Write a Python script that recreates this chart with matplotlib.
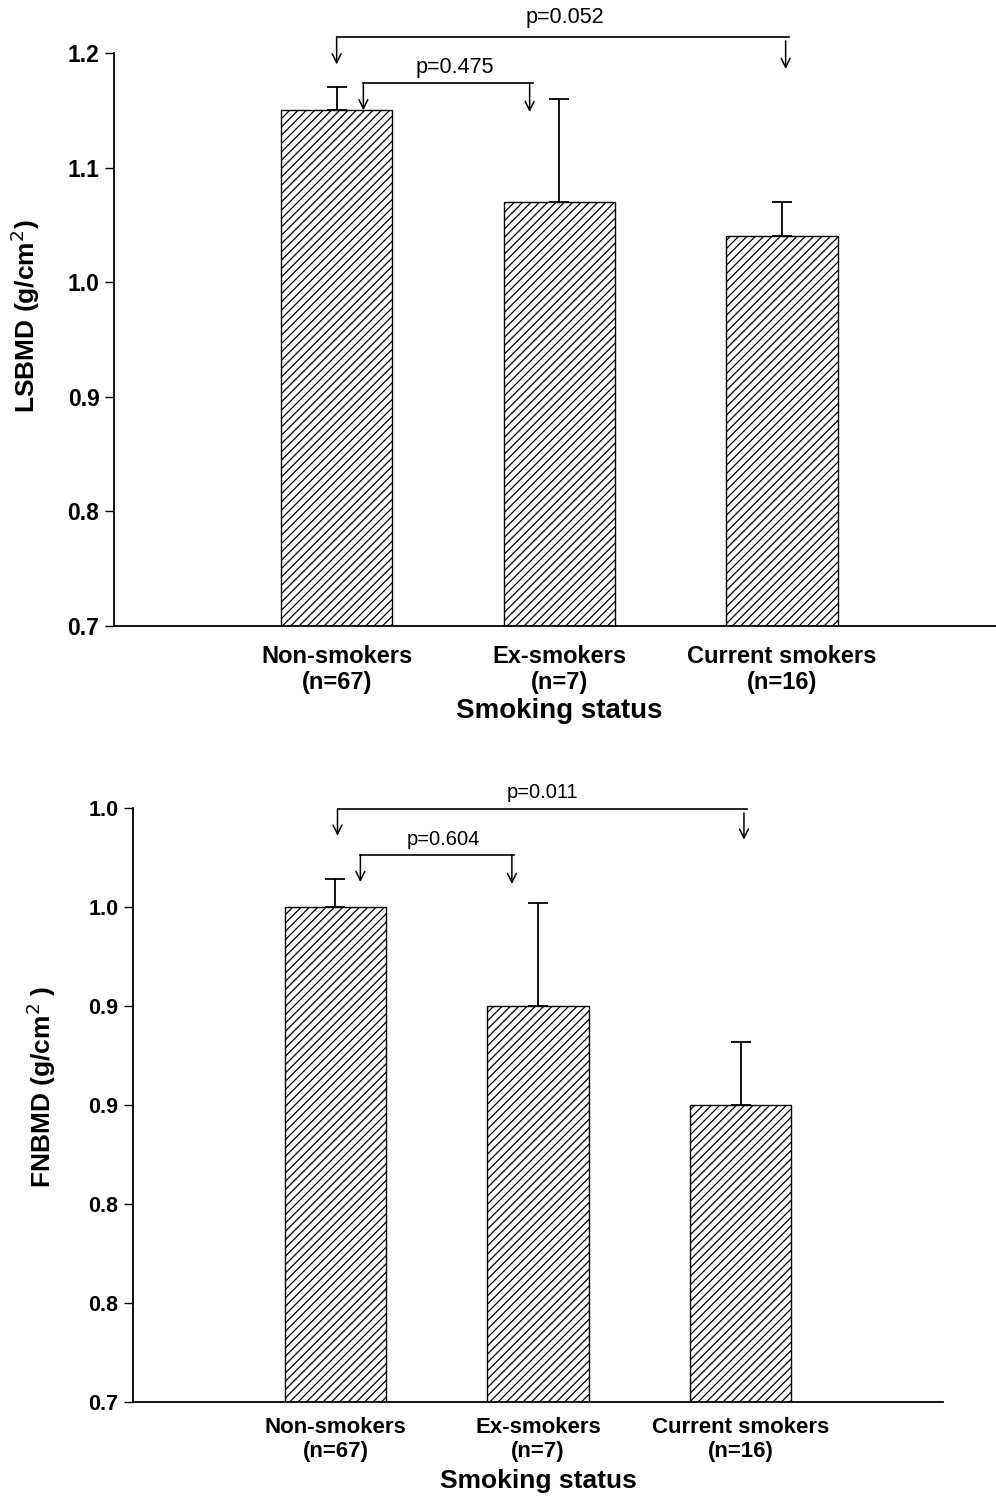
import numpy as np
import matplotlib
matplotlib.use("Agg")
import matplotlib.pyplot as plt

# ------------------------------------------------------
# data
# ------------------------------------------------------
categories = ["Non-smokers\n(n=67)", "Ex-smokers\n(n=7)", "Current smokers\n(n=16)"]

ls_mean = [1.15, 1.07, 1.04]
ls_err = [0.02, 0.09, 0.03]
ls_ticks = [0.7, 0.8, 0.9, 1.0, 1.1, 1.2]
ls_ticklabels = ["0.7", "0.8", "0.9", "1.0", "1.1", "1.2"]

fn_mean = [0.95, 0.90, 0.85]
fn_err = [0.014, 0.052, 0.032]
fn_ticks = [0.70, 0.75, 0.80, 0.85, 0.90, 0.95, 1.00]
fn_ticklabels = ["0.7", "0.8", "0.8", "0.9", "0.9", "1.0", "1.0"]

# p-value brackets: (label, left x, right x, line y, left arrow end, right arrow start, right arrow end, text x, text y)
ls_brackets = [
    ("p=0.052", 0.0, 2.03, 1.214, 1.190, 1.2105, 1.186, 1.025, 1.231),
    ("p=0.475", 0.12, 0.88, 1.174, 1.150, 1.174, 1.1485, 0.53, 1.187),
]
fn_brackets = [
    ("p=0.011", 0.01, 2.03, 0.9995, 0.986, 0.9975, 0.984, 1.02, 1.008),
    ("p=0.604", 0.123, 0.884, 0.9763, 0.9626, 0.9763, 0.9616, 0.533, 0.984),
]

plt.rcParams["font.family"] = ["Liberation Sans", "DejaVu Sans"]
plt.rcParams["hatch.linewidth"] = 0.9


def draw_panel(ax, means, errs, ticks, ticklabels, brackets, ylabel, ylim,
               tick_fs, xt_fs, xt_pad, xl_fs, xl_pad, p_fs, ylab_xy):
    x = np.arange(len(categories))
    ax.bar(x, means, width=0.5, color="white", edgecolor="black",
           linewidth=1.0, hatch="////", zorder=2)
    ax.errorbar(x, means, yerr=[np.zeros(len(errs)), errs], fmt="none",
                ecolor="black", elinewidth=1.3, capsize=7, capthick=1.3, zorder=1)

    ax.set_xlim(-1, 3)
    ax.set_ylim(*ylim)
    ax.set_yticks(ticks)
    ax.set_yticklabels(ticklabels, fontsize=tick_fs, fontweight="bold")
    ax.set_xticks(x)
    ax.set_xticklabels(categories, fontsize=xt_fs, fontweight="bold",
                       linespacing=1.15)
    ax.tick_params(axis="x", length=0, pad=xt_pad)
    ax.tick_params(axis="y", length=6.5, width=1.0, pad=4)

    for s in ["top", "right"]:
        ax.spines[s].set_visible(False)
    for s in ["left", "bottom"]:
        ax.spines[s].set_linewidth(1.3)

    ax.set_xlabel("Smoking status", fontsize=xl_fs, fontweight="bold",
                  labelpad=xl_pad)
    ax.set_ylabel(ylabel, fontsize=19, fontweight="bold")
    ax.yaxis.set_label_coords(*ylab_xy)

    for label, xl, xr, yl, yl_end, yr_start, yr_end, tx, ty in brackets:
        ax.plot([xl, xr], [yl, yl], color="black", lw=1.2, clip_on=False)
        ax.annotate("", xy=(xl, yl_end), xytext=(xl, yl), annotation_clip=False,
                    arrowprops=dict(arrowstyle="->", lw=1.1, color="black",
                                    shrinkA=0, shrinkB=0, mutation_scale=16))
        ax.annotate("", xy=(xr - 0.013, yr_end), xytext=(xr - 0.013, yr_start),
                    annotation_clip=False,
                    arrowprops=dict(arrowstyle="->", lw=1.1, color="black",
                                    shrinkA=0, shrinkB=0, mutation_scale=16))
        ax.text(tx, ty, label, fontsize=p_fs, ha="center", va="center",
                clip_on=False)


fig = plt.figure(figsize=(9.96, 15.04), dpi=100)

ax1 = fig.add_axes([0.1145, 0.5838, 0.894, 0.381])
draw_panel(ax1, ls_mean, ls_err, ls_ticks, ls_ticklabels, ls_brackets,
           r"LSBMD (g/cm$^2$)", (0.7, 1.2), 16.5, 17, 14, 20, 3, 15.5,
           (-0.081, 0.54))

ax2 = fig.add_axes([0.1335, 0.0678, 0.8133, 0.395])
draw_panel(ax2, fn_mean, fn_err, fn_ticks, fn_ticklabels, fn_brackets,
           r"FNBMD (g/cm$^2$ )", (0.7, 1.0), 15.5, 16, 11, 19, 5, 14.5,
           (-0.093, 0.53))

fig.savefig("out.png", dpi=100)
